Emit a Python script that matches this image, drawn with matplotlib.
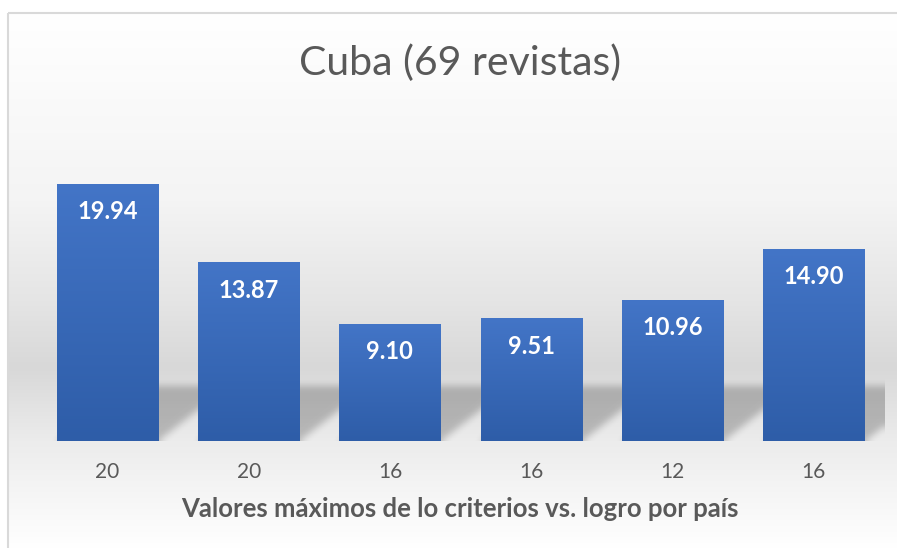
import numpy as np
import matplotlib.pyplot as plt
from matplotlib.patches import Rectangle

categories = ["20", "20", "16", "16", "12", "16"]
values = [19.94, 13.87, 9.10, 9.51, 10.96, 14.90]
title = "Cuba (69 revistas)"
xlabel = "Valores máximos de lo criterios vs. logro por país"

W, H = 897, 548
grey = "#595959"
plt.rcParams["font.family"] = ["Lato", "DejaVu Sans"]

fig = plt.figure(figsize=(W / 100, H / 100), dpi=100)

# chart area background: soft vertical gradient like the Excel style
bg = fig.add_axes([0, 0, 1, 1], zorder=-2)
rows = np.arange(H)
shade = np.interp(rows, [13, 200, 300, 367, 441, 548], [255, 244, 229, 216, 236, 255]) / 255
rgb = np.dstack([np.repeat(shade[:, None], W, axis=1)] * 3)
rgb[:13, :] = 1
rgb[:, :8] = 1
bg.imshow(rgb, extent=[0, W, H, 0], aspect="auto")
bg.add_patch(Rectangle((8, 13), W, H, fill=False, ec="#d9d9d9", lw=1.5))
bg.set_xlim(0, W)
bg.set_ylim(H, 0)
bg.axis("off")

ax = fig.add_axes([37 / W, 107 / H, 847 / W, 322.3 / H])
ax.patch.set_alpha(0)
x = np.arange(len(values))
width = 0.716


def blur(a, r):
    for axis in (0, 1):
        pad = [(r + 1, r) if k == axis else (0, 0) for k in range(2)]
        c = np.cumsum(np.pad(a, pad, mode="edge"), axis=axis)
        if axis == 0:
            a = (c[2 * r + 1:] - c[:-2 * r - 1]) / (2 * r + 1)
        else:
            a = (c[:, 2 * r + 1:] - c[:, :-2 * r - 1]) / (2 * r + 1)
    return a


# slanted floor shadows behind the bars
nx, ny = 847, 322
xs = -0.5 + (np.arange(nx) + 0.5) / nx * len(values)
ys = (np.arange(ny) + 0.5) / ny * 25
XX, YY = np.meshgrid(xs, ys)
sh_h, sh_s = 4.3, 0.5
mask = np.zeros_like(XX)
for xi in x:
    xx = XX - sh_s * YY / sh_h
    mask[(YY <= sh_h) & (xx >= xi - width / 2) & (xx <= xi + width / 2)] = 1
for _ in range(3):
    mask = blur(mask, 3)
shadow = np.zeros((ny, nx, 4))
shadow[..., 3] = mask * 0.22
ax.imshow(shadow, extent=[-0.5, len(values) - 0.5, 0, 25], origin="lower",
          aspect="auto", zorder=1)

bars = ax.bar(x, values, width=width, color="#3a69b8", zorder=2)
grad = np.linspace(0, 1, 256)[:, None]
top_c = np.array([0x43, 0x75, 0xc7]) / 255
bot_c = np.array([0x2e, 0x5d, 0xa8]) / 255
for b in bars:
    g = grad[..., None] * top_c + (1 - grad[..., None]) * bot_c
    im = ax.imshow(g, extent=[b.get_x(), b.get_x() + b.get_width(), 0, b.get_height()],
                   origin="lower", aspect="auto", zorder=3)
    im.set_clip_path(b)

for xi, v in zip(x, values):
    ax.text(xi, v - 2.17, f"{v:.2f}", ha="center", va="center", color="white",
            fontsize=17, fontweight="bold", zorder=4)

ax.set_xlim(-0.5, len(values) - 0.5)
ax.set_ylim(0, 25)
ax.set_xticks(x, categories)
ax.tick_params(axis="x", length=0, pad=15, labelsize=15, labelcolor=grey)
ax.set_yticks([])
for s in ax.spines.values():
    s.set_visible(False)

ax.set_xlabel(xlabel, fontsize=18.5, fontweight="bold", color=grey)
ax.xaxis.set_label_coords(0.4994, (441 - 509) / 322.3)
ax.xaxis.label.set_va("center")

fig.text(460 / W, 1 - 63 / H, title, ha="center", va="center", fontsize=29.5,
         color=grey)

fig.savefig("out.png", dpi=100)
